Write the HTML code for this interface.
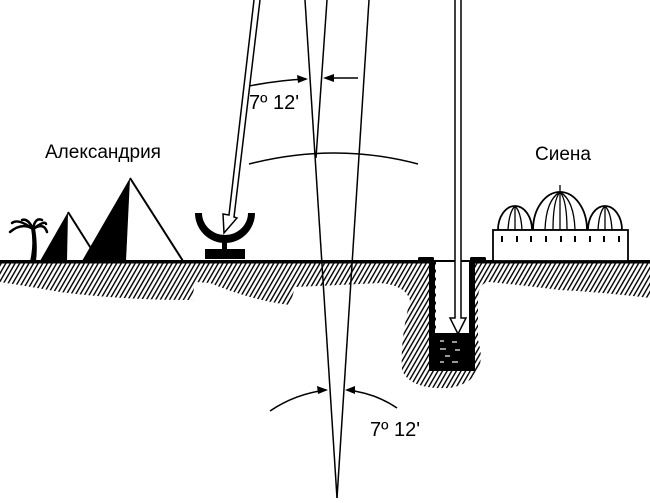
<!DOCTYPE html>
<html><head><meta charset="utf-8"><style>html,body{margin:0;padding:0;background:#fff}svg{display:block}</style></head>
<body>
<svg width="650" height="503" viewBox="0 0 650 503" xmlns="http://www.w3.org/2000/svg">
<defs>
<pattern id="h" width="4" height="4" patternUnits="userSpaceOnUse" patternTransform="rotate(30)">
<rect x="0" y="0" width="1.4" height="4" fill="#000"/>
</pattern>
</defs>
<path fill="url(#h)" d="M0,263 L650,263 L650,298 Q600,292 560,290 Q520,285 490,282 Q478,282 478,300 L478,340 Q490,380 450,388 Q410,390 402,370 Q400,340 410,300 Q405,285 380,283 Q340,285 295,287 L290,305 Q250,300 210,283 L195,282 L192,300 Q120,300 60,292 Q20,285 0,282 Z"/>
<rect x="0" y="260" width="650" height="3.5" fill="#000"/>
<rect x="436" y="262" width="33" height="72" fill="#fff"/>
<rect x="429" y="262" width="6" height="109" fill="#000"/>
<rect x="469" y="262" width="6" height="109" fill="#000"/>
<rect x="429" y="333" width="46" height="38" fill="#000"/>
<g stroke="#fff" stroke-width="1.2">
<line x1="440" y1="341" x2="444" y2="341"/><line x1="452" y1="342" x2="457" y2="342"/><line x1="440" y1="349" x2="446" y2="349"/><line x1="455" y1="350" x2="460" y2="350"/><line x1="445" y1="356" x2="450" y2="356"/><line x1="440" y1="362" x2="444" y2="362"/><line x1="452" y1="362" x2="458" y2="362"/>
</g>
<rect x="418" y="257" width="16" height="5" rx="1.5" fill="#000"/>
<rect x="470" y="257" width="16" height="5" rx="1.5" fill="#000"/>
<path d="M455,0 L455,318 L450,318 L458,334 L466,318 L461,318 L461,0" fill="#fff" stroke="#000" stroke-width="1.5"/>
<path d="M195,213 L255,213 A30,30 0 0 1 195,213 Z" fill="#000"/>
<path d="M202,213 L248,213 A23,22 0 0 1 202,213 Z" fill="#fff"/>
<path d="M254,0 L229,215 L223,214 L224,233 L237,218 L234,217 L260,0" fill="#fff" stroke="#000" stroke-width="1.5"/>
<rect x="222" y="240" width="5" height="10" fill="#000"/>
<rect x="205" y="249" width="40" height="10" fill="#000"/>
<path d="M40,261 L68,212 L67,261 Z" fill="#000"/>
<path d="M68,212 L92,250" stroke="#000" stroke-width="2" fill="none"/>
<path d="M82,261 L130,178 L126,261 Z" fill="#000"/>
<path d="M130,178 L183,261" stroke="#000" stroke-width="2" fill="none"/>
<path d="M30,261 Q34,245 31,228 L35,228 Q38,245 36,261 Z" fill="#000"/>
<g stroke="#000" stroke-width="2.5" fill="none" stroke-linecap="round">
<path d="M33,229 Q22,222 10,232"/><path d="M33,229 Q18,218 12,223"/><path d="M33,229 Q28,218 22,220"/><path d="M33,229 Q35,217 42,220"/><path d="M33,229 Q44,222 47,232"/><path d="M33,229 Q45,220 46,224"/>
</g>
<g stroke="#000" stroke-width="1.8" fill="#fff">
<path d="M498,230 A17,24 0 0 1 532,230 Z"/>
<path d="M533,230 A27,38 0 0 1 587,230 Z"/>
<path d="M588,230 A17,24 0 0 1 622,230 Z"/>
<rect x="493" y="230" width="135" height="31"/>
</g>
<g stroke="#000" stroke-width="1.3" fill="none">
<path d="M508,230 Q509,212 515,206"/><path d="M515,230 L515,206"/><path d="M522,230 Q521,212 515,206"/>
<path d="M545,230 Q546,200 560,192"/><path d="M553,230 Q553,200 560,192"/><path d="M560,230 L560,185"/><path d="M567,230 Q567,200 560,192"/><path d="M575,230 Q574,200 560,192"/>
<path d="M598,230 Q599,212 605,206"/><path d="M605,230 L605,206"/><path d="M612,230 Q611,212 605,206"/>
</g>
<g fill="#000">
<rect x="501" y="236" width="2" height="6"/><rect x="516" y="236" width="2" height="6"/><rect x="530" y="236" width="2" height="6"/><rect x="545" y="236" width="2" height="6"/><rect x="560" y="236" width="2" height="6"/><rect x="574" y="236" width="2" height="6"/><rect x="589" y="236" width="2" height="6"/><rect x="603" y="236" width="2" height="6"/><rect x="618" y="236" width="2" height="6"/>
</g>
<g stroke="#000" stroke-width="1.5" fill="none">
<line x1="305" y1="0" x2="337" y2="498"/>
<line x1="369" y1="0" x2="337" y2="498"/>
<line x1="327" y1="0" x2="316" y2="158"/>
<path d="M249,164 Q335,142 418,164"/>
<path d="M249,86 Q280,80 306,79"/>
<line x1="358" y1="78" x2="326" y2="78"/>
<path d="M270,411 Q295,394 326,390"/>
<path d="M397,408 Q375,393 347,390"/>
</g>
<g fill="#000">
<path d="M308,79 L297,75 L298,83 Z"/>
<path d="M323,78 L334,74 L334,82 Z"/>
<path d="M328,390 L317,386 L318,394 Z"/>
<path d="M345,390 L355,386 L355,394 Z"/>
</g>
<g font-family="Liberation Sans, sans-serif" fill="#000">
<text x="249" y="109" font-size="20">7º 12'</text>
<text x="370" y="436" font-size="20">7º 12'</text>
<text x="45" y="158" font-size="19">Александрия</text>
<text x="535" y="160" font-size="19">Сиена</text>
</g>
</svg>
</body></html>
